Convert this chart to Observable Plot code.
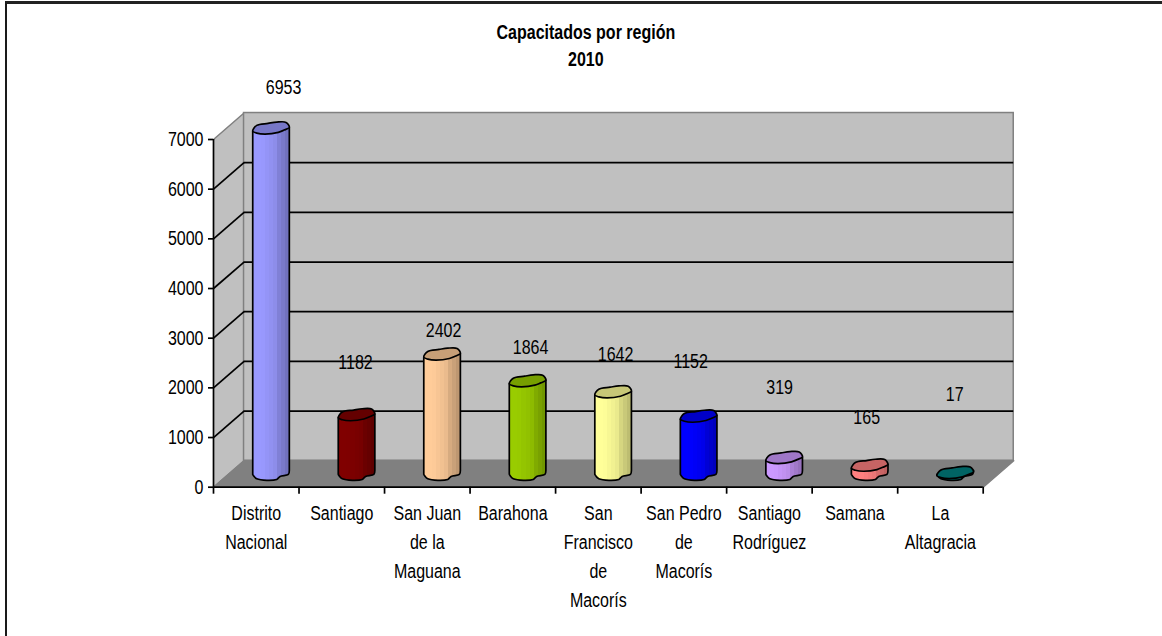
<!DOCTYPE html>
<html lang="es">
<head>
<meta charset="utf-8">
<title>Capacitados por región 2010</title>
<script src="https://cdn.jsdelivr.net/npm/d3@7"></script>
<script src="https://cdn.jsdelivr.net/npm/@observablehq/plot@0.6"></script>
<style>
  html, body { margin: 0; padding: 0; background: #fff; overflow: hidden; }
  #chart { position: relative; width: 1162px; height: 636px; }
  #chart svg { position: absolute; left: 0; top: 0; }
  #edge { position: absolute; left: 5px; top: 1px; right: 0; bottom: 0;
          border-left: 2px solid #1a1a1a; border-top: 3px solid #222; pointer-events: none; }
</style>
</head>
<body>
<div id="chart"><div id="edge"></div></div>
<script>
const regions = ["Distrito\nNacional", "Santiago", "San Juan\nde la\nMaguana", "Barahona",
  "San\nFrancisco\nde\nMacorís", "San Pedro\nde\nMacorís", "Santiago\nRodríguez", "Samana", "La\nAltagracia"];
const capacitados = [6953, 1182, 2402, 1864, 1642, 1152, 319, 165, 17];
const barColors = ["#9999ff", "#800000", "#ffcc99", "#99cc00", "#ffff99", "#0000ff", "#cc99ff", "#ff8080", "#008080"];
const yTicks = [0, 1000, 2000, 3000, 4000, 5000, 6000, 7000];
// Hand-placed data labels of the original chart, in pixels from the top of each column
const labelNudgeX = [12, -1.5, 1, 2.5, 2, -8.5, -5, -3.5, -1];
const labelNudgeY = [-41, -53, -24, -34, -38, -55, -71, -48, -79];

const font = "'Liberation Sans', Arial, sans-serif";
const squeeze = 0.8;    // the original's type is condensed
const depthX = 0.357;   // oblique depth, in category widths
const depthY = 533;     // oblique depth, in value units
const table = capacitados.map((value, i) => ({value, i, region: regions[i], color: barColors[i]}));

// Irregular outline of the original's cylinders, in pixels around the column axis
const capOutline = [[-18.3,3],[-14.3,-2.7],[-3,-4.7],[5.7,-6],[15,-5.7],[18.3,-0.7],[13,2],[7.3,4.3],[-6,6],[-14.3,5]];
const baseOutline = [[-18.3,1],[-14.3,5.3],[5.7,6],[9,3],[17.3,1],[18.3,-3]];
const smooth = d3.line().curve(d3.curveCatmullRom.alpha(0.5));
const smoothClosed = d3.line().curve(d3.curveCatmullRomClosed.alpha(0.5));

function cylinders(index, scales, values, dims, context) {
  const g = d3.select(context.document.createElementNS("http://www.w3.org/2000/svg", "g"));
  const defs = g.append("defs");
  for (const i of index) {
    const d = table[i];
    const cx = scales.x(d.i + 0.5 + depthX / 2);
    const y0 = scales.y(depthY / 2);
    const y1 = scales.y(depthY / 2 + d.value);
    const grad = defs.append("linearGradient").attr("id", `cyl${i}`);
    const bands = [0, 0, 0.03, 0.1, 0.17, 0.25, 0.5, 0.65, 0.8];
    bands.forEach((k, b) => {
      const col = d3.interpolateRgb(d.color, d3.rgb(d.color).darker(1.1))(k);
      grad.append("stop").attr("offset", b / bands.length).attr("stop-color", col);
      grad.append("stop").attr("offset", (b + 1) / bands.length).attr("stop-color", col);
    });
    const bottom = smooth(baseOutline.map(([x, y]) => [cx + x, y0 + y])).replace(/^M[^CL]*/, "");
    g.append("path")
      .attr("d", `M${[cx + capOutline[0][0], y1 + capOutline[0][1]]}L${[cx + baseOutline[0][0], y0 + baseOutline[0][1]]}${bottom}L${[cx + capOutline[5][0], y1 + capOutline[5][1]]}Z`)
      .attr("fill", `url(#cyl${i})`)
      .attr("stroke", "#000").attr("stroke-width", 1.7).attr("stroke-linejoin", "round");
    g.append("path")
      .attr("d", smoothClosed(capOutline.map(([x, y]) => [cx + x, y1 + y])))
      .attr("fill", d3.interpolateRgb(d.color, "#000")(0.22))
      .attr("stroke", "#000").attr("stroke-width", 1.7);
  }
  return g.node();
}

const gridLevels = yTicks.slice(1, -1);
const plot = Plot.plot({
  width: 1162, height: 636,
  marginLeft: 213, marginRight: 179.3, marginTop: 139, marginBottom: 149.3,
  x: {type: "linear", domain: [0, 9]},
  y: {domain: [0, 7000]},
  style: {fontFamily: font, fontSize: "20px", background: "transparent", overflow: "visible"},
  marks: [
    // side wall
    Plot.line([[0,0],[depthX,depthY],[depthX,7000+depthY],[0,7000]], {x: "0", y: "1", fill: "#c0c0c0", stroke: "#808080", strokeWidth: 1.5}),
    // back wall
    Plot.rect([{}], {x1: depthX, x2: 9 + depthX, y1: depthY, y2: 7000 + depthY, fill: "#c0c0c0", stroke: "#808080", strokeWidth: 1.5}),
    // floor
    Plot.line([[0,0],[depthX,depthY],[9+depthX,depthY],[9,0]], {x: "0", y: "1", fill: "#808080", stroke: "#808080"}),
    // gridlines
    Plot.link(gridLevels, {x1: 0, x2: depthX, y1: d => d, y2: d => d + depthY, stroke: "#000", strokeWidth: 1.7}),
    Plot.ruleY(gridLevels.map(d => d + depthY), {x1: depthX, x2: 9 + depthX, stroke: "#000", strokeWidth: 1.7}),
    // cylinders
    Plot.rect(table, {
      x1: d => d.i + 0.5 + depthX / 2 - 0.2, x2: d => d.i + 0.5 + depthX / 2 + 0.2,
      y1: depthY / 2, y2: d => depthY / 2 + d.value, render: cylinders
    }),
    // axes
    Plot.ruleX([0], {y1: 0, y2: 7000, stroke: "#000", strokeWidth: 1.7}),
    Plot.ruleY([0], {x1: 0, x2: 9, stroke: "#000", strokeWidth: 1.7}),
    Plot.axisY({ticks: yTicks, tickSize: 5, tickPadding: 5, tickFormat: d => String(d), label: null, fontSize: 20, fill: "#000", stroke: "#000", strokeWidth: 1.7}),
    Plot.axisX({ticks: d3.range(10), tickSize: 7, tickFormat: () => "", label: null, stroke: "#000", strokeWidth: 1.7}),
    // category labels
    Plot.text(table, {x: d => d.i + 0.5, y: 0, text: "region", lineAnchor: "top", lineHeight: 1.45, dy: 12, fontSize: 20, fill: "#000"}),
    // value labels
    ...table.map((d, i) => Plot.text([d], {
      x: d.i + 0.5 + depthX / 2, y: depthY / 2 + d.value, text: d => String(d.value),
      dx: labelNudgeX[i], dy: labelNudgeY[i], fontSize: 20, fill: "#000"
    })),
    // title
    Plot.text(["Capacitados por región\n2010"], {frameAnchor: "top", dy: -120, dx: -12.5, lineAnchor: "top", lineHeight: 1.35, fontSize: 20, fontWeight: "bold", fill: "#000"})
  ]
});
// Condense every text horizontally about its own anchor
plot.querySelectorAll("text").forEach(t => {
  const x = +t.getAttribute("x") || 0, y = +t.getAttribute("y") || 0;
  const base = t.getAttribute("transform") || "";
  t.setAttribute("transform", `${base} translate(${x},${y}) scale(${squeeze},1) translate(${-x},${-y})`);
});
document.getElementById("chart").prepend(plot);
</script>
</body>
</html>
